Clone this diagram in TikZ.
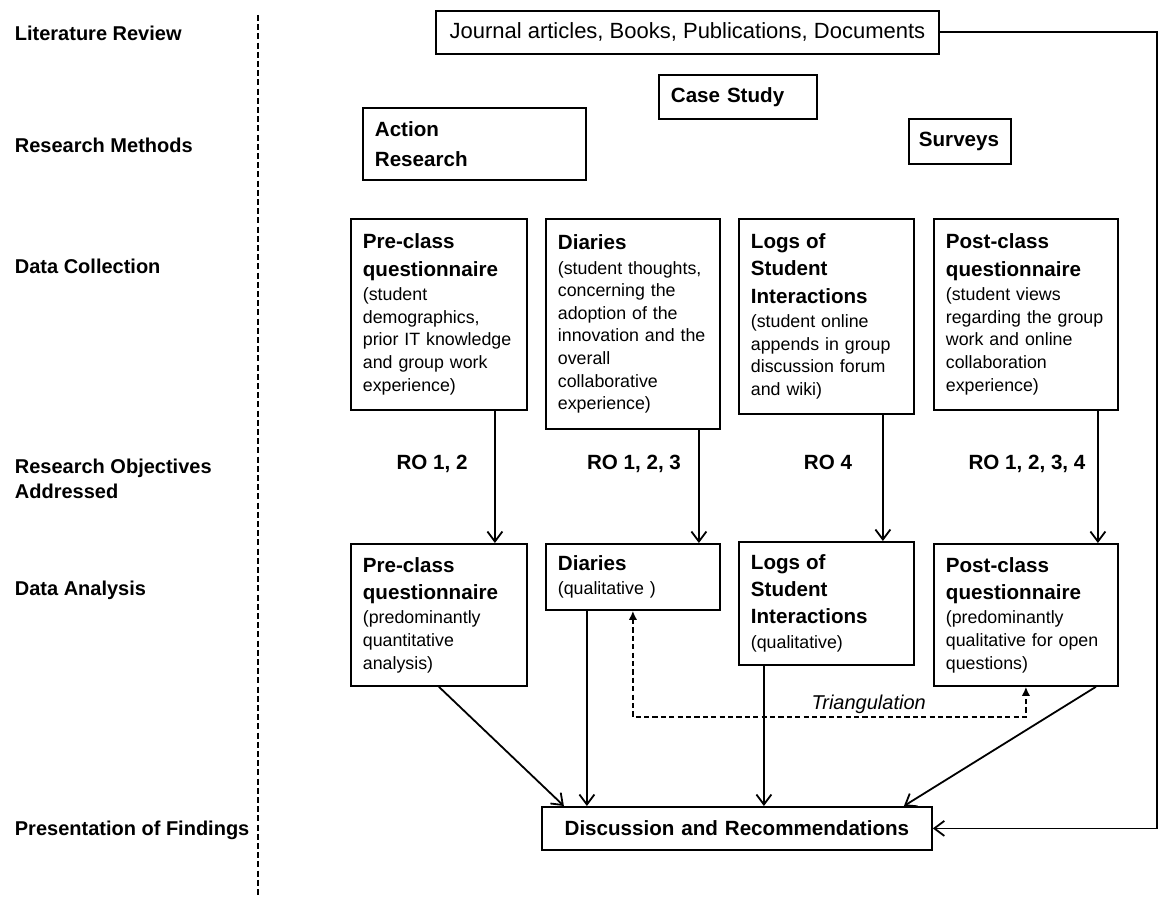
\documentclass[tikz,border=0pt]{standalone}
\usepackage{fontspec}
\setmainfont{Liberation Sans}
\usetikzlibrary{arrows.meta}
\newcommand{\tfont}{\fontsize{8.9}{11.3}\selectfont\mdseries}
\newcommand{\hfont}{\fontsize{10.3}{13.6}\selectfont\bfseries}
\tikzset{
	box/.style = {draw, line width=0.9pt, anchor=north west, align=left,
		inner xsep=6pt, inner ysep=0pt, font=\tfont},% box, text on the left
	box_h/.style = {box, font=\hfont},% box with a bold title only
	side_lbl/.style = {anchor=west, align=left, inner sep=0pt,
		font=\fontsize{10}{12.6}\selectfont\bfseries},% stage names
	ro_lbl/.style = {anchor=base, font=\hfont, inner sep=0pt},% objectives addressed
	tri/.style = {dashed, dash pattern=on 2.6pt off 1.6pt, <->,
		>={Latex[length=4.5pt,width=4.2pt]}}% triangulation
}

\begin{document}
\begin{tikzpicture}[x=0.5pt, y=-0.5pt, line width=0.9pt,
		>={Straight Barb[length=5pt,width=7.5pt]}]
	\useasboundingbox (0,0) rectangle (1159,899);
	% stages
	\node[side_lbl] (l1) at (14,33) {Literature Review};
	\node[side_lbl] (l2) at (14,145) {Research Methods};
	\node[side_lbl] (l3) at (14,266) {Data Collection};
	\node[side_lbl] (l4) at (14,479) {Research Objectives\\Addressed};
	\node[side_lbl] (l5) at (14,590) {Data Analysis};
	\node[side_lbl] (l6) at (14,830) {Presentation of Findings};
	\draw[line width=0.7pt, dash pattern=on 3pt off 1.6pt] (258,15) -- (258,895);
	% methods
	\node[box, align=center, minimum width=251.5pt, minimum height=21.5pt,
		font=\fontsize{11}{13}\selectfont] (journal) at (435,10)
		{Journal articles, Books, Publications, Documents};
	\node[box_h, text width=67pt, minimum height=22pt] (cases) at (658,74) {Case Study};
	\node[box_h, text width=99.5pt, minimum height=36pt] (action) at (362,107) {Action\\[1.2pt]Research};
	\node[box_h, inner xsep=5pt, text width=41pt, minimum height=22.5pt] (surveys) at (908,118) {Surveys};
	% data collection
	\node[box, text width=76pt, minimum height=95.5pt] (pre1) at (350,218)
		{\hfont Pre-class\\questionnaire\\[1pt]\tfont (student\\demographics,\\prior IT knowledge\\and group work\\experience)};
	\node[box, text width=75pt, minimum height=105pt] (dia1) at (545,218)
		{\hfont Diaries\\[1pt]\tfont (student thoughts,\\concerning the\\adoption of the\\innovation and the\\overall\\collaborative\\experience)};
	\node[box, text width=75.5pt, minimum height=97.5pt] (log1) at (738,218)
		{\hfont Logs of\\Student\\Interactions\\[1pt]\tfont (student online\\appends in group\\discussion forum\\and wiki)};
	\node[box, text width=80pt, minimum height=95.5pt] (post1) at (933,218)
		{\hfont Post-class\\questionnaire\\[1pt]\tfont (student views\\regarding the group\\work and online\\collaboration\\experience)};
	% objectives
	\node[ro_lbl] (ro1) at (432,469) {RO 1, 2};
	\node[ro_lbl] (ro2) at (634,469) {RO 1, 2, 3};
	\node[ro_lbl] (ro3) at (828,469) {RO 4};
	\node[ro_lbl] (ro4) at (1027,469) {RO 1, 2, 3, 4};
	% data analysis
	\node[box, text width=76pt, minimum height=71pt] (pre2) at (350,543)
		{\hfont Pre-class\\questionnaire\\[1pt]\tfont (predominantly\\quantitative\\analysis)};
	\node[box, text width=75pt, minimum height=33pt] (dia2) at (545,543)
		{\hfont Diaries\\[1pt]\tfont (qualitative )};
	\node[box, text width=75.5pt, minimum height=61.5pt] (log2) at (738,541)
		{\hfont Logs of\\Student\\Interactions\\[1pt]\tfont (qualitative)};
	\node[box, text width=80pt, minimum height=71pt] (post2) at (933,543)
		{\hfont Post-class\\questionnaire\\[1pt]\tfont (predominantly\\qualitative for open\\questions)};
	% findings
	\node[box_h, align=center, text width=183pt, minimum height=21.5pt] (disc) at (541,806)
		{Discussion and Recommendations};
	\coordinate (rgt) at (1157,0);
	\coordinate (trib) at (0,717);
	\draw[->] ([xshift=28pt]pre1.south) -- ([xshift=28pt]pre2.north);
	\draw[->] ([xshift=33pt]dia1.south) -- ([xshift=33pt]dia2.north);
	\draw[->] ([xshift=28.25pt]log1.south) -- ([xshift=28.25pt]log2.north);
	\draw[->] ([xshift=36pt]post1.south) -- ([xshift=36pt]post2.north);
	\draw[->] (pre2.south) -- ([xshift=-86.5pt]disc.north);
	\draw[->] ([xshift=-23pt]dia2.south) -- ([xshift=-75pt]disc.north);
	\draw[->] ([xshift=-31.25pt]log2.south) -- ([xshift=13.5pt]disc.north);
	\draw[->] ([xshift=35pt]post2.south) -- ([xshift=83.5pt]disc.north);
	\draw[->] (journal.east) -- (journal.east -| rgt) |- (disc.east);
	\draw[tri] (dia2.south) -- (dia2.south |- trib)
		-- node[pos=0.6, above, inner sep=1pt, font=\fontsize{10}{12}\selectfont\itshape] (trilbl) {Triangulation}
		(post2.south |- trib) -- (post2.south);
\end{tikzpicture}
\end{document}
